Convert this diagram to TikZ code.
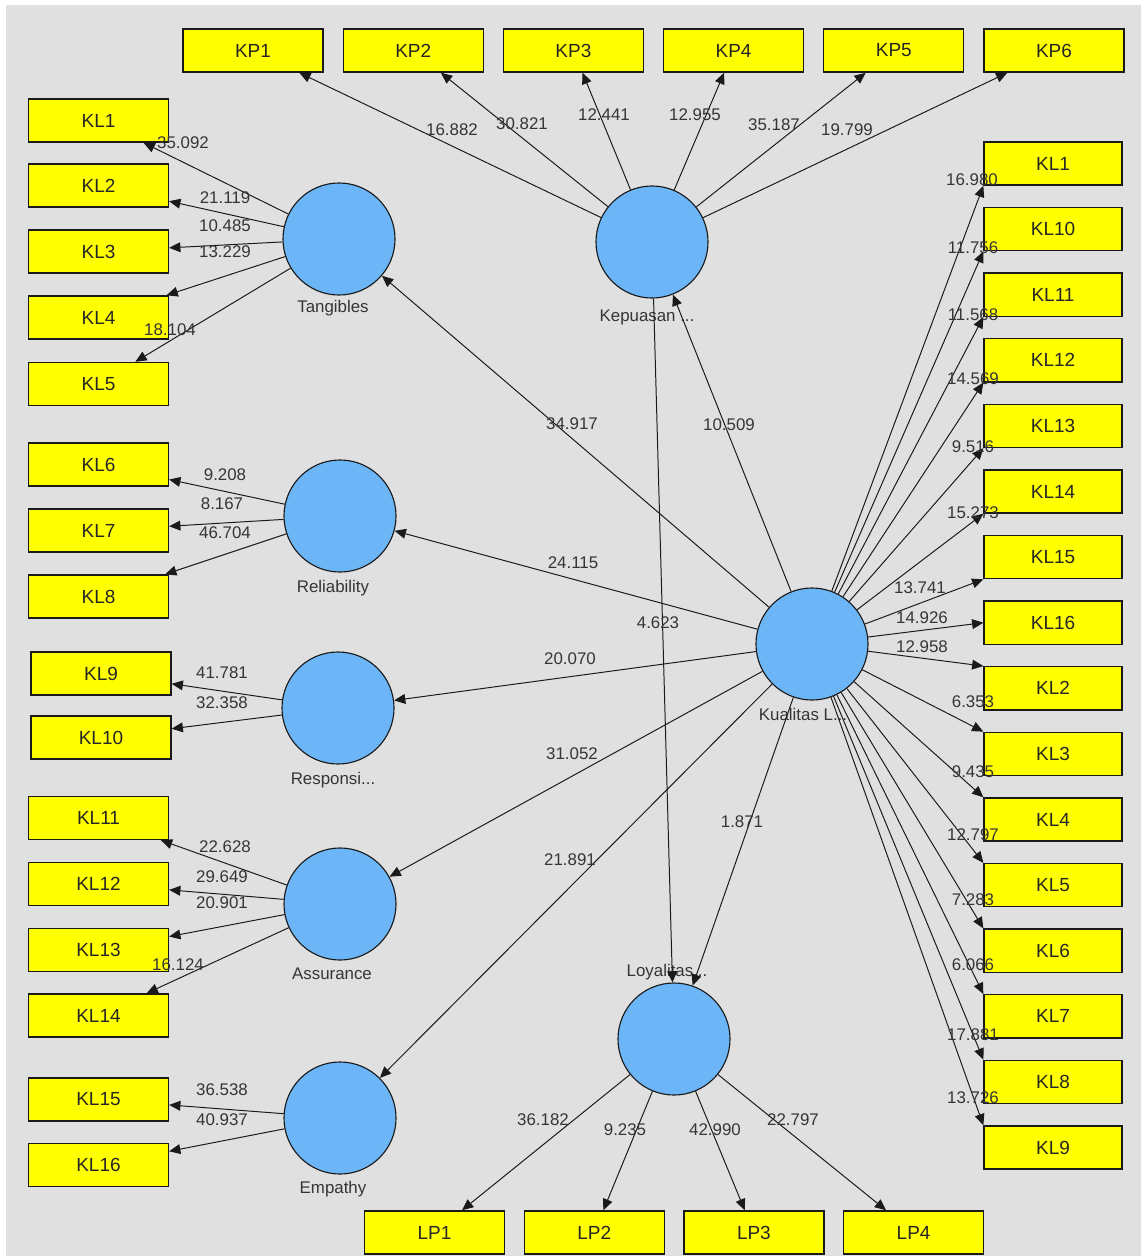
\documentclass[tikz,border=0pt]{standalone}
\usepackage{fontspec}
\setmainfont{Liberation Sans}
\usetikzlibrary{arrows.meta}
\definecolor{PlsYellow}{HTML}{FFFF00}
\definecolor{PlsBlue}{HTML}{6CB6F8}
\definecolor{PlsCanvas}{HTML}{E0E0E0}
\definecolor{PlsText}{HTML}{353535}
\definecolor{PlsLine}{HTML}{1A1A1A}
\tikzset{
  indicator/.style={draw=PlsLine, fill=PlsYellow, line width=0.9pt,
                    minimum width=3.5cm, minimum height=1.08cm, inner sep=0pt,
                    font=\fontsize{13.5}{16}\selectfont, text=black!85},
  construct/.style={circle, draw=PlsLine, fill=PlsBlue, line width=0.8pt,
                    minimum size=2.8cm, inner sep=0pt},
  cname/.style={font=\fontsize{12}{14}\selectfont, text=PlsText, inner sep=0pt},
  weight/.style={font=\fontsize{12}{14}\selectfont, text=PlsText, inner sep=0pt},
  loading/.style={-{Triangle[length=8pt,width=7pt]}, line width=0.7pt,
                  draw=PlsLine}
}
\begin{document}
\begin{tikzpicture}[x=0.025cm, y=-0.025cm]
  \useasboundingbox (0,0) rectangle (1141,1256);
  \fill[white] (0,0) rectangle (1141,1256);
  \fill[PlsCanvas] (6,5) rectangle (1141,1256);

  % latent variables
  \node[construct] (tang) at (339,239) {};
  \node[construct] (reli) at (340,516) {};
  \node[construct] (resp) at (338,708) {};
  \node[construct] (assu) at (340,904) {};
  \node[construct] (empa) at (340,1118) {};
  \node[construct] (kepu) at (652,242) {};
  \node[construct] (kual) at (812,644) {};
  \node[construct] (loya) at (674,1039) {};

  \node[cname] (tangname) at (333,308) {Tangibles};
  \node[cname] (reliname) at (333,588) {Reliability};
  \node[cname] (respname) at (333,780) {Responsi...};
  \node[cname] (assuname) at (332,974) {Assurance};
  \node[cname] (empaname) at (333,1189) {Empathy};
  \node[cname] (kepuname) at (647,317) {Kepuasan ...};
  \node[cname] (kualname) at (803,714) {Kualitas L...};
  \node[cname] (loyaname) at (667,972) {Loyalitas...};

  % indicators
  \foreach \name [count=\i from 0] in {KP1,KP2,KP3,KP4,KP5,KP6}
    \node[indicator] (\name) at (253+160.2*\i,50.5) {\name};
  \foreach \name [count=\i from 0] in {LP1,LP2,LP3,LP4}
    \node[indicator] (\name) at (434.5+159.7*\i,1232.5) {\name};
  \foreach \name/\xx/\yy in {KL1/98.5/120.5, KL2/98.5/185.5, KL3/98.5/251.5,
      KL4/98.5/317.5, KL5/98.5/384, KL6/98.5/464.5, KL7/98.5/530.5,
      KL8/98.5/596.5, KL9/101/673.5, KL10/101/737.5, KL11/98.5/818,
      KL12/98.5/884, KL13/98.5/950, KL14/98.5/1015.5, KL15/98.5/1099.5,
      KL16/98.5/1165}
    \node[indicator] (l\name) at (\xx,\yy) {\name};
  \foreach \name [count=\i from 0] in {KL1,KL10,KL11,KL12,KL13,KL14,KL15,
      KL16,KL2,KL3,KL4,KL5,KL6,KL7,KL8,KL9}
    \node[indicator, minimum width=3.45cm] (r\name) at (1053,163.5+65.6*\i) {\name};

  % outer model
  \foreach \k in {1,...,5} \draw[loading] (tang) -- (lKL\k);
  \foreach \k in {6,7,8} \draw[loading] (reli) -- (lKL\k);
  \foreach \k in {9,10} \draw[loading] (resp) -- (lKL\k);
  \foreach \k in {11,...,14} \draw[loading] (assu) -- (lKL\k);
  \foreach \k in {15,16} \draw[loading] (empa) -- (lKL\k);
  \foreach \k in {1,...,6} \draw[loading] (kepu) -- (KP\k);
  \foreach \k in {1,...,4} \draw[loading] (loya) -- (LP\k);
  \foreach \k/\anc in {1/south west, 10/south west, 11/south west,
      12/south west, 13/south west, 14/south west, 15/south west, 16/west,
      2/north west, 3/north west, 4/north west, 5/north west, 6/north west,
      7/north west, 8/north west, 9/north west}
    \draw[loading] (kual) -- (rKL\k.\anc);

  % inner model
  \foreach \t in {tang,reli,resp,assu,empa,kepu,loya}
    \draw[loading] (kual) -- (\t);
  \draw[loading] (kepu) -- (loya);

  % t-values
  \foreach \v/\xx/\yy [count=\k] in {16.882/452/130, 30.821/522/124,
      12.441/604/115, 12.955/695/115, 35.187/774/125, 19.799/847/130,
      35.092/183/143, 21.119/225/198, 10.485/225/226, 13.229/225/252,
      18.104/170/330, 9.208/225/475, 8.167/222/504, 46.704/225/533,
      41.781/222/673, 32.358/222/703, 22.628/225/847, 29.649/222/877,
      20.901/222/903, 16.124/178/965, 36.538/222/1090, 40.937/222/1120,
      34.917/572/424, 10.509/729/425, 24.115/573/563, 4.623/658/623,
      20.070/570/659, 31.052/572/754, 21.891/570/860, 1.871/742/822,
      16.980/972/180, 11.756/973/248, 11.568/973/315, 14.569/973/379,
      9.516/973/447, 15.273/973/513, 13.741/920/588, 14.926/922/618,
      12.958/922/647, 6.353/973/702, 9.435/973/772, 12.797/973/835,
      7.283/973/900, 6.066/973/965, 17.881/973/1035, 13.726/973/1098,
      36.182/543/1120, 9.235/625/1130, 42.990/715/1130, 22.797/793/1120}
    \node[weight] (w\k) at (\xx,\yy) {\v};
\end{tikzpicture}
\end{document}
